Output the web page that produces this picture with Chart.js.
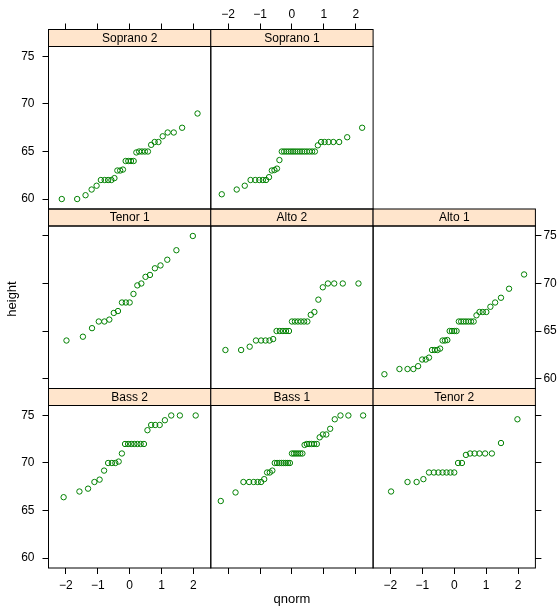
<!DOCTYPE html>
<html>
<head>
<meta charset="utf-8">
<script src="https://cdn.jsdelivr.net/npm/chart.js@4/dist/chart.umd.min.js"></script>
<style>
  body { margin: 0; background: #fff; }
  #wrap { position: relative; width: 560px; height: 609px; }
  #wrap canvas { position: absolute; left: 0; top: 0; }
</style>
</head>
<body>
<div id="wrap"></div>
<script>
// sorted heights (inches) for each voice part
const bass2 = [66.4, 67, 67.3, 68, 68.25, 69.2, 70, 70, 70, 70.15, 71, 72, 72, 72, 72, 72, 72, 72, 73.45, 74, 74, 74, 74.5, 75, 75, 75];
const bass1 = [66, 66.9, 68, 68, 68, 68, 68, 68.3, 69, 69, 69.2, 70, 70, 70, 70, 70, 70, 70, 70, 71, 71, 71, 71, 71, 71, 71.9, 72, 72, 72, 72, 72, 72.7, 73, 73, 73.6, 74.6, 75, 75, 75];
const tenor2 = [67, 68, 68, 68.3, 69, 69, 69, 69, 69, 69, 69, 70, 70, 70.85, 71, 71, 71, 71, 71, 72.1, 74.6];
const tenor1 = [64, 64.4, 65.3, 66, 66, 66.2, 66.9, 67.1, 68, 68, 68, 68.9, 69.8, 70, 70.7, 70.9, 71.6, 71.9, 72.5, 73.5, 75];
const alto2 = [63, 63, 63.35, 64, 64, 64, 64, 64.15, 65, 65, 65, 65, 65, 66, 66, 66, 66, 66, 66, 66.7, 67, 68.3, 69.6, 70, 70, 70, 70];
const alto1 = [60.45, 61, 61, 61, 61.3, 62, 62, 62.2, 63, 63, 63, 63.15, 64, 64, 64.05, 65, 65, 65, 65, 66, 66, 66, 66, 66, 66, 66, 66.65, 67, 67, 67, 67.55, 68, 68.5, 69.45, 70.95];
const soprano2 = [60, 60, 60.4, 61, 61.4, 62, 62, 62, 62, 62.2, 63, 63, 63.1, 64, 64, 64, 64, 64.9, 65, 65, 65, 65, 65.7, 66, 66, 66.6, 67, 67, 67.5, 69];
const soprano1 = [60.5, 61, 61.4, 62, 62, 62, 62, 62, 62.3, 63, 63.05, 63.2, 64.1, 65, 65, 65, 65, 65, 65, 65, 65, 65, 65, 65, 65, 65, 65, 65, 65.65, 66, 66, 66, 66, 66, 66.5, 67.5];

// panels run left to right, bottom to top
const panelNames = ['Bass 2', 'Bass 1', 'Tenor 2', 'Tenor 1', 'Alto 2', 'Alto 1', 'Soprano 2', 'Soprano 1'];
const panelHeights = [bass2, bass1, tenor2, tenor1, alto2, alto1, soprano2, soprano1];

const xTicks = [-2, -1, 0, 1, 2];
const yTicks = [60, 65, 70, 75];

const W = 560, H = 609;
const colLeft = [48.5, 210.8, 373.1];
const panelW = 162.3;
const stripTop = [388.5, 209, 29.5]; // bottom row first
const stripH = 17, plotH = 162.5;
const tickLen = 6;

const FONT = 'Liberation Sans, Arial, Helvetica, sans-serif';
Chart.defaults.font.family = FONT;
Chart.defaults.font.size = 12;
Chart.defaults.color = '#000';

// inverse normal cdf (Acklam)
function qnorm(p) {
    const a = [-3.969683028665376e+01, 2.209460984245205e+02, -2.759285104469687e+02, 1.383577518672690e+02, -3.066479806614716e+01, 2.506628277459239e+00];
    const b = [-5.447609879822406e+01, 1.615858368580409e+02, -1.556989798598866e+02, 6.680131188771972e+01, -1.328068155288572e+01];
    const c = [-7.784894002430293e-03, -3.223964580411365e-01, -2.400758277161838e+00, -2.549732539343734e+00, 4.374664141464968e+00, 2.938163982698783e+00];
    const d = [7.784695709041462e-03, 3.224671290700398e-01, 2.445134137142996e+00, 3.754408661907416e+00];
    const pl = 0.02425;
    let q, r;
    if (p < pl) {
        q = Math.sqrt(-2 * Math.log(p));
        return (((((c[0] * q + c[1]) * q + c[2]) * q + c[3]) * q + c[4]) * q + c[5]) / ((((d[0] * q + d[1]) * q + d[2]) * q + d[3]) * q + 1);
    }
    if (p > 1 - pl) {
        q = Math.sqrt(-2 * Math.log(1 - p));
        return -(((((c[0] * q + c[1]) * q + c[2]) * q + c[3]) * q + c[4]) * q + c[5]) / ((((d[0] * q + d[1]) * q + d[2]) * q + d[3]) * q + 1);
    }
    q = p - 0.5;
    r = q * q;
    return (((((a[0] * r + a[1]) * r + a[2]) * r + a[3]) * r + a[4]) * r + a[5]) * q / (((((b[0] * r + b[1]) * r + b[2]) * r + b[3]) * r + b[4]) * r + 1);
}

// theoretical quantiles against sorted sample, plotting positions (i - 0.5) / n
function qqPoints(values) {
    const n = values.length;
    return values.map((v, i) => ({ x: qnorm((i + 0.5) / n), y: v }));
}

// shared limits, extended 7% each side
const allHeights = panelHeights.flat();
const maxN = Math.max(...panelHeights.map(h => h.length));
const xEdge = qnorm(1 - 0.5 / maxN);
const xMin = -xEdge - 0.07 * 2 * xEdge, xMax = xEdge + 0.07 * 2 * xEdge;
const yLo = Math.min(...allHeights), yHi = Math.max(...allHeights);
const yMin = yLo - 0.07 * (yHi - yLo), yMax = yHi + 0.07 * (yHi - yLo);

function fmt(v) {
    return v < 0 ? '\u2212' + Math.abs(v) : String(v);
}

const stripPlugin = {
    id: 'strip',
    afterDraw: (chart, args, opts) => {
        const ctx = chart.ctx;
        const a = chart.chartArea;
        ctx.save();
        ctx.fillStyle = '#ffe5cc';
        ctx.fillRect(a.left, a.top - stripH, a.right - a.left, stripH);
        ctx.strokeStyle = '#000';
        ctx.lineWidth = 1;
        ctx.strokeRect(a.left, a.top - stripH, a.right - a.left, stripH);
        ctx.strokeRect(a.left, a.top, a.right - a.left, a.bottom - a.top);
        ctx.fillStyle = '#000';
        ctx.font = '12px ' + FONT;
        ctx.textAlign = 'center';
        ctx.textBaseline = 'middle';
        ctx.fillText(opts.name, (a.left + a.right) / 2, a.top - stripH / 2 + 0.5);
        if (opts.titles) {
            ctx.font = '13px ' + FONT;
            ctx.textBaseline = 'alphabetic';
            ctx.fillText('qnorm', 292, 603);
            ctx.translate(16, 299);
            ctx.rotate(-Math.PI / 2);
            ctx.fillText('height', 0, 0);
        }
        ctx.restore();
    }
};

const labelPad = { left: 8, right: 2, top: 2, bottom: 4 };

function axis(pos, show, labels, fitSize, vals) {
    const horizontal = pos === 'top' || pos === 'bottom';
    return {
        type: 'linear',
        position: pos,
        min: horizontal ? xMin : yMin,
        max: horizontal ? xMax : yMax,
        afterBuildTicks: s => { s.ticks = vals.map(v => ({ value: v })); },
        afterFit: s => {
            if (horizontal) s.height = fitSize; else s.width = fitSize;
        },
        border: { display: false },
        grid: {
            display: show,
            drawOnChartArea: false,
            drawTicks: true,
            // top ticks reach through the strip; the strip is painted over them
            tickLength: pos === 'top' ? tickLen + stripH : tickLen,
            color: '#000',
            lineWidth: 1
        },
        ticks: {
            display: show,
            padding: labelPad[pos],
            color: '#000',
            font: { size: 12 },
            maxRotation: 0,
            autoSkip: false,
            callback: v => labels ? fmt(v) : ''
        }
    };
}

const wrap = document.getElementById('wrap');

panelNames.forEach((name, k) => {
    const col = k % 3, row = Math.floor(k / 3);
    const left = colLeft[col], right = left + panelW;
    const top = stripTop[row] + stripH, bottom = top + plotH;

    const canvas = document.createElement('canvas');
    canvas.width = W;
    canvas.height = H;
    canvas.style.width = W + 'px';
    canvas.style.height = H + 'px';
    wrap.appendChild(canvas);

    new Chart(canvas, {
        type: 'scatter',
        data: {
            datasets: [{
                label: name,
                data: qqPoints(panelHeights[k]),
                pointStyle: 'circle',
                pointRadius: 2.7,
                borderWidth: 1,
                borderColor: '#008000',
                backgroundColor: 'rgba(0,0,0,0)'
            }]
        },
        options: {
            responsive: false,
            devicePixelRatio: 1,
            animation: false,
            events: [],
            layout: { padding: 0 },
            plugins: {
                legend: { display: false },
                tooltip: { enabled: false },
                strip: { name: name, titles: k === 0 }
            },
            scales: {
                x: axis('bottom', row === 0, col !== 1, H - bottom, xTicks),
                xTop: axis('top', row === 2, col === 1, top, xTicks),
                y: axis('left', col === 0, row !== 1, left, yTicks),
                yRight: axis('right', col === 2, row === 1, W - right, yTicks)
            }
        },
        plugins: [stripPlugin]
    });
});
</script>
</body>
</html>
